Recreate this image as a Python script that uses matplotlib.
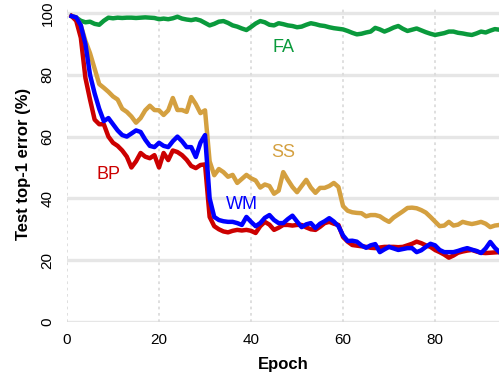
import matplotlib
matplotlib.use("Agg")
import matplotlib.pyplot as plt
import numpy as np

plt.rcParams['font.family'] = ['Liberation Sans', 'DejaVu Sans']

# Epochs 1..94, values (test top-1 error, %)
epochs = list(range(1, 95))

fa = [99, 98.5, 97.5, 97, 97.2, 96.5, 96.2, 97.5, 98.5, 98.3,
      98.5, 98.4, 98.5, 98.5, 98.4, 98.5, 98.6, 98.5, 98.4, 98.0,
      98.2, 98.0, 98.3, 98.8, 98.2, 97.9, 97.7, 98.0, 97.6, 96.8,
      96.0, 96.5, 97.2, 97.4, 96.8, 96.0, 95.6, 95.0, 94.5, 95.5,
      96.6, 97.4, 97.0, 96.2, 96.0, 96.7, 96.4, 96.0, 95.8, 95.4,
      95.6, 96.2, 96.7, 96.4, 96.0, 95.8, 95.4, 95.1, 94.9, 94.7,
      94.2, 93.6, 93.1, 93.3, 93.7, 94.0, 95.2, 94.7, 94.0, 94.6,
      95.3, 95.8, 94.9, 94.2, 94.6, 95.0, 94.4, 93.8, 93.3, 92.9,
      93.2, 93.5, 94.0, 94.0, 93.6, 93.4, 93.1, 92.9, 93.4, 94.0,
      93.7, 94.3, 94.8, 94.6]

bp = [99, 97.5, 92, 79, 72, 65.5, 64, 64, 60, 58,
      57, 55.5, 53.5, 50, 52, 54.7, 53.5, 53, 54, 50,
      54.7, 52.4, 55.5, 55, 54, 52.5, 50.5, 49.8, 50.8, 51,
      34, 31, 30, 29.3, 29, 29.5, 29.8, 29.6, 29.8, 29.5,
      28.8, 31, 32.4, 31.5, 29.8, 30.5, 31.4, 31.4, 31.2, 31.4,
      31.4, 30.6, 30, 29.8, 30.8, 32, 32.4, 31.8, 31.4, 27.5,
      26, 24.9, 24.7, 24.5, 24.3, 24, 23.9, 24.1, 24.3, 24.3,
      24.3, 24.2, 24.3, 24.8, 25.3, 26, 25.5, 24.8, 24.3, 23.3,
      22.6, 21.8, 20.8, 21.5, 22.4, 22.8, 23.1, 23.3, 22.8, 22.4,
      22.3, 22.4, 22.5, 22.6]

wm = [99, 98.6, 96, 90, 80, 74, 69, 65, 66, 64,
      62, 60.5, 60, 61, 62, 61.5, 59, 57, 56.6, 58,
      57, 56.6, 58.5, 60, 58.5, 56.6, 56.6, 53.4, 58, 60.5,
      40, 34, 33, 32.6, 32.4, 32.4, 32, 31.4, 34, 32.4,
      31, 32, 33.7, 34.6, 33, 32, 32, 33.3, 34.4, 32.5,
      30.7, 31.6, 32, 30.4, 31.8, 32.6, 33.6, 32.5, 31, 28,
      26.2, 26.3, 26, 24.8, 24, 24.8, 25.2, 22.6, 23.5, 24.3,
      23.8, 23.3, 23.6, 23.9, 23.9, 22.6, 23.2, 24.3, 25.3, 24.8,
      23.3, 22.6, 22.6, 22.6, 23, 23.5, 23.9, 23.4, 23, 22.3,
      23.8, 25.9, 24, 22.6]

ss = [99, 98.6, 96, 91, 87, 82, 77, 75.8, 74.5, 73,
      72, 69, 68, 66.5, 64.5, 66, 68.5, 70, 68.6, 68.5,
      67, 68.5, 72.5, 68.6, 68.6, 68, 72.8, 70.5, 67.6, 68.5,
      52, 47.5, 49.5, 48.5, 47, 47.6, 45, 46.3, 47.6, 46.5,
      45.8, 43.5, 44.5, 44, 41.5, 42.5, 48.5, 46, 43.7, 42,
      44, 46, 43.5, 41.8, 43.4, 43.4, 44, 45, 43.7, 37.5,
      36, 35.5, 35.3, 35.2, 34.2, 34.6, 34.6, 34.2, 33.2, 32.4,
      33.8, 34.8, 35.8, 36.9, 37, 36.8, 36.2, 35.4, 34, 32.5,
      31, 31.2, 32.4, 31.2, 31.5, 32.4, 32, 31.7, 32, 32.4,
      31.8, 30.7, 31.2, 31.4]

series = [
    ("FA", fa, "#0a9a3c", (47, 89)),
    ("SS", ss, "#d4a040", (47, 54.7)),
    ("BP", bp, "#cc0000", (9, 47.6)),
    ("WM", wm, "#0000ff", (38, 37.9)),
]

fig = plt.figure(figsize=(4.99, 3.81), dpi=100)
ax = fig.add_axes([0.1343, 0.155, 0.8657, 0.827])

for y in [0, 20, 40, 60, 80, 100]:
    ax.axhline(y, color="#e6e6e6", linewidth=2.4, zorder=0)
for x in [0, 20, 40, 60, 80]:
    ax.axvline(x, color="#dcdcdc", linewidth=1.3, linestyle=(0, (1.5, 2)), zorder=0)

for name, vals, col, (tx, ty) in series:
    ax.plot(epochs, vals, color=col, linewidth=3.2, solid_joinstyle="round", zorder=2)
    ax.text(tx, ty, name, color=col, fontsize=13, ha="center", va="center")

ax.set_xlim(0, 93.9)
ax.set_ylim(0, 102)
ax.set_xticks([0, 20, 40, 60, 80])
ax.set_yticks([0, 20, 40, 60, 80, 100])
ax.tick_params(length=0, labelsize=11, pad=8)
ax.tick_params(axis="y", pad=9)
for lbl in ax.get_yticklabels():
    lbl.set_rotation(90)
    lbl.set_va("center")
for s in ax.spines.values():
    s.set_visible(False)

ax.set_xlabel("Epoch", fontsize=12, fontweight="bold", labelpad=7)
ax.set_ylabel("Test top-1 error (%)", fontsize=12, fontweight="bold", labelpad=7)

fig.savefig("out.png", dpi=100)
